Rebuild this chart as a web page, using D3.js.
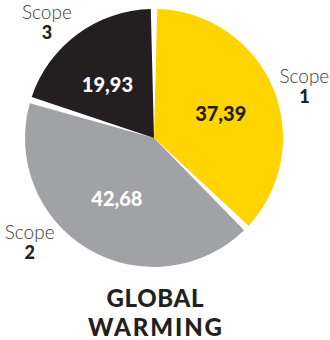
<!DOCTYPE html>
<html>
<head>
<meta charset="utf-8">
<script src="https://cdn.jsdelivr.net/npm/d3@7"></script>
<style>
    body { margin: 0; background: #fff; }
    svg { display: block; }
</style>
</head>
<body>
<div id="chart"></div>
<script>

// data
let scopes = ["1", "2", "3"];
let values = [37.39, 42.68, 19.93];
let colors = ["#FFD400", "#A1A2A6", "#231F20"];
let valueColors = ["#231F20", "#ffffff", "#ffffff"];
let titleLines = ["GLOBAL", "WARMING"];

// label directions (degrees clockwise from top)
let valueAngles = [70, 211.5, 319];
let outerAngles = [70, 231, 318];

let width = 330, height = 340;
let cx = 154, cy = 138, radius = 129;

let svg = d3.select("#chart").append("svg")
    .attr("width", width)
    .attr("height", height);

let g = svg.append("g")
    .attr("transform", "translate(" + cx + "," + cy + ")");

let pie = d3.pie()
    .sort(null)
    .padAngle(0.05)
    .value(d => d);

let arc = d3.arc()
    .innerRadius(0)
    .outerRadius(radius)
    .padRadius(radius);

let arcs = pie(values);

g.selectAll("path")
    .data(arcs)
    .enter().append("path")
    .attr("d", arc)
    .attr("fill", (d, i) => colors[i]);

// point at angle/radius from centre
function polar(deg, r) {
    let a = deg * Math.PI / 180;
    return [Math.sin(a) * r, -Math.cos(a) * r];
}

// values inside slices
g.selectAll(".value")
    .data(arcs)
    .enter().append("text")
    .attr("class", "value")
    .attr("x", (d, i) => polar(valueAngles[i], 71)[0])
    .attr("y", (d, i) => polar(valueAngles[i], 71)[1])
    .attr("dy", "0.36em")
    .attr("text-anchor", "middle")
    .attr("font-family", "Lato")
    .attr("font-weight", 900)
    .attr("font-size", 20)
    .attr("fill", (d, i) => valueColors[i])
    .text(d => d3.format(".2f")(d.data).replace(".", ","));

// outer "Scope n" labels
let outer = g.selectAll(".scope")
    .data(arcs)
    .enter().append("g")
    .attr("class", "scope")
    .attr("transform", (d, i) => "translate(" + polar(outerAngles[i], 160) + ")");

outer.append("text")
    .attr("text-anchor", "middle")
    .attr("font-family", "Lato")
    .attr("font-weight", 300)
    .attr("font-size", 19)
    .attr("fill", "#3a3a3a")
    .text("Scope");

outer.append("text")
    .attr("y", 20)
    .attr("text-anchor", "middle")
    .attr("font-family", "Lato")
    .attr("font-weight", 900)
    .attr("font-size", 18)
    .attr("fill", "#231F20")
    .text((d, i) => scopes[i]);

// title
svg.selectAll(".title")
    .data(titleLines)
    .enter().append("text")
    .attr("class", "title")
    .attr("x", 155)
    .attr("y", (d, i) => 307 + i * 29)
    .attr("text-anchor", "middle")
    .attr("font-family", "Lato")
    .attr("font-weight", 900)
    .attr("font-size", 24)
    .attr("fill", "#231F20")
    .attr("textLength", (d, i) => i === 0 ? 97 : 134)
    .attr("lengthAdjust", "spacing")
    .text(d => d);

</script>
</body>
</html>
